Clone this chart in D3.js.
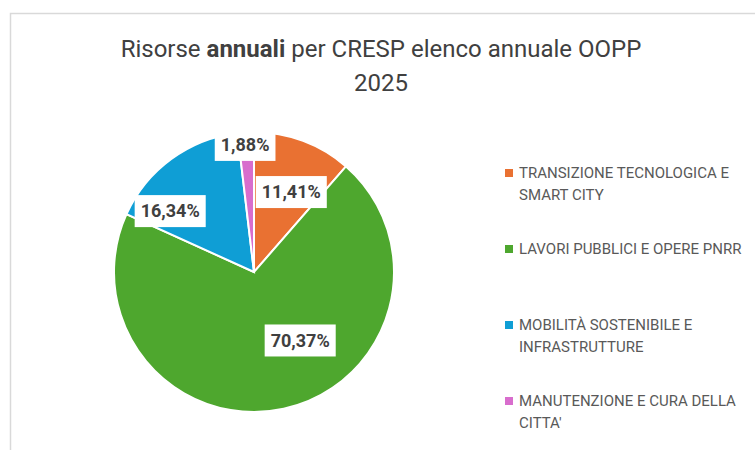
<!DOCTYPE html>
<html>
<head>
<meta charset="utf-8">
<script src="https://cdn.jsdelivr.net/npm/d3@7"></script>
<style>
  body { margin: 0; background: #fff; }
  svg { display: block; }
</style>
</head>
<body>
<figure style="margin:0"></figure>
<script>
const categories = [
  ["TRANSIZIONE TECNOLOGICA E", "SMART CITY"],
  ["LAVORI PUBBLICI E OPERE PNRR"],
  ["MOBILITÀ SOSTENIBILE E", "INFRASTRUTTURE"],
  ["MANUTENZIONE E CURA DELLA", "CITTA'"],
];
const shares = [11.41, 70.37, 16.34, 1.88];
const sliceColors = ["#E97132", "#4EA72E", "#0F9ED5", "#D86DCD"];

// where Excel's "best fit" put each label: angle (deg from top) and radius share
const labelAngle = [25, 146, 306, 356];
const labelRadius = [0.63, 0.59, 0.74, 0.91];

const width = 755;
const height = 450;
const fmt = (v) => d3.format(".2f")(v).replace(".", ",") + "%";

const svg = d3.select("figure").append("svg")
  .attr("width", width).attr("height", height);

// chart frame
svg.append("path")
  .attr("d", "M10.5,450V13.5H755")
  .attr("fill", "none")
  .attr("stroke", "#d9d9d9")
  .attr("stroke-width", 1.5);

const title = svg.append("text")
  .attr("x", 381).attr("y", 57)
  .attr("text-anchor", "middle")
  .attr("font-family", "Roboto")
  .attr("font-size", 24)
  .attr("fill", "#404040");
title.append("tspan").text("Risorse ");
title.append("tspan").attr("font-weight", "bold").text("annuali");
title.append("tspan").text(" per CRESP elenco annuale OOPP");
title.append("tspan").attr("x", 381).attr("dy", 34).text("2025");

const cx = 254, cy = 272, r = 140;
const g = svg.append("g").attr("transform", `translate(${cx},${cy})`);

const pie = d3.pie().sort(null).value((d) => d);
const arcs = pie(shares);
const arc = d3.arc().innerRadius(0).outerRadius(r);

g.selectAll("path")
  .data(arcs)
  .join("path")
  .attr("d", arc)
  .attr("fill", (_, i) => sliceColors[i])
  .attr("stroke", "#fff")
  .attr("stroke-width", 2);

const labels = g.selectAll("g.lbl")
  .data(arcs)
  .join("g")
  .attr("class", "lbl")
  .attr("transform", (d, i) => {
    const a = (labelAngle[i] * Math.PI) / 180;
    const rr = labelRadius[i] * r;
    return `translate(${rr * Math.sin(a)},${-rr * Math.cos(a)})`;
  });

labels.each(function (d) {
  const s = d3.select(this);
  const box = s.append("rect").attr("fill", "#fff");
  const t = s.append("text")
    .attr("text-anchor", "middle")
    .attr("dy", "0.35em")
    .attr("font-family", "Roboto")
    .attr("font-weight", "bold")
    .attr("font-size", 18)
    .attr("fill", "#404040")
    .text(fmt(d.data));
  const bb = t.node().getBBox();
  box.attr("x", bb.x - 6).attr("y", -16)
    .attr("width", bb.width + 12).attr("height", 32);
});

// legend
const legend = svg.append("g").attr("transform", "translate(505,173)");
const items = legend.selectAll("g")
  .data(categories)
  .join("g")
  .attr("transform", (_, i) => `translate(0,${i * 76})`);

items.append("rect")
  .attr("y", -4).attr("width", 8).attr("height", 8)
  .attr("fill", (_, i) => sliceColors[i]);

items.append("text")
  .attr("font-family", "Roboto")
  .attr("font-size", 15)
  .attr("fill", "#595959")
  .selectAll("tspan")
  .data((d) => d)
  .join("tspan")
  .attr("x", 14)
  .attr("y", (_, j) => j * 22)
  .attr("dy", "0.35em")
  .text((d) => d);
</script>
</body>
</html>
